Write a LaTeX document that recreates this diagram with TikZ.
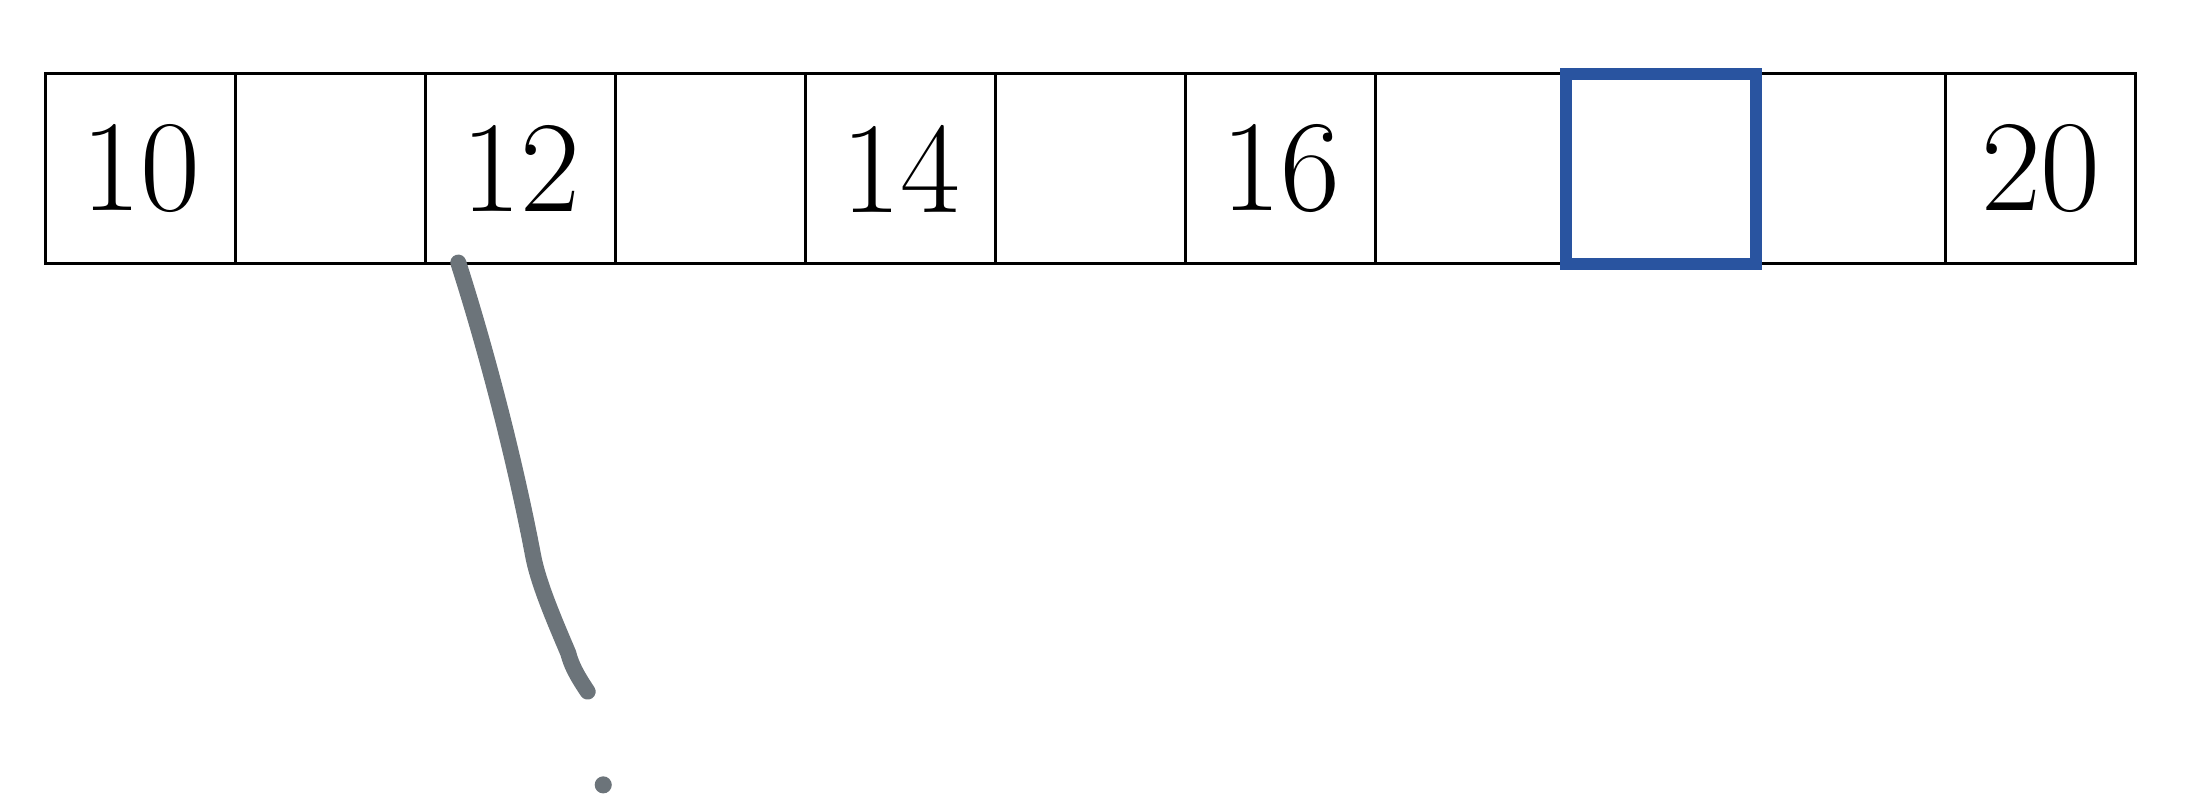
\documentclass[tikz,border=0pt]{standalone}
\usepackage{tikz}
\usetikzlibrary{positioning}
\definecolor{markblau}{RGB}{41,84,160}
\definecolor{stiftgrau}{RGB}{108,116,122}

\begin{document}
\begin{tikzpicture}[
    zelle/.style={draw, line width=0.45pt, minimum size=1cm, inner sep=0pt, outer sep=0pt, font=\fontsize{19.5}{23}\selectfont},
    ]
    \useasboundingbox (-0.242,-2.821) rectangle (11.353,1.389);

    % Feld
    \node[zelle] (z1) at (0.5,0.5) {10};
    \foreach \w [count=\i from 2, remember=\i as \p (initially 1)] in {{},12,{},14,{},16,{},{},{},20}{
        \node[zelle, right=0pt of z\p] (z\i) {\w};
    }

    \draw[markblau, line width=1.8pt] (z9.south west) rectangle (z9.north east);

    % Handstrich
    \draw[stiftgrau, line width=2.4pt, line cap=round, line join=round]
        (2.170,0.007) .. controls (2.32,-0.46) and (2.47,-1.04) .. (2.565,-1.541)
        .. controls (2.594,-1.69) and (2.686,-1.90) .. (2.749,-2.049)
        .. controls (2.765,-2.11) and (2.79,-2.16) .. (2.851,-2.251);
    \fill[stiftgrau] (2.933,-2.742) circle (0.045);

\end{tikzpicture}
\end{document}
